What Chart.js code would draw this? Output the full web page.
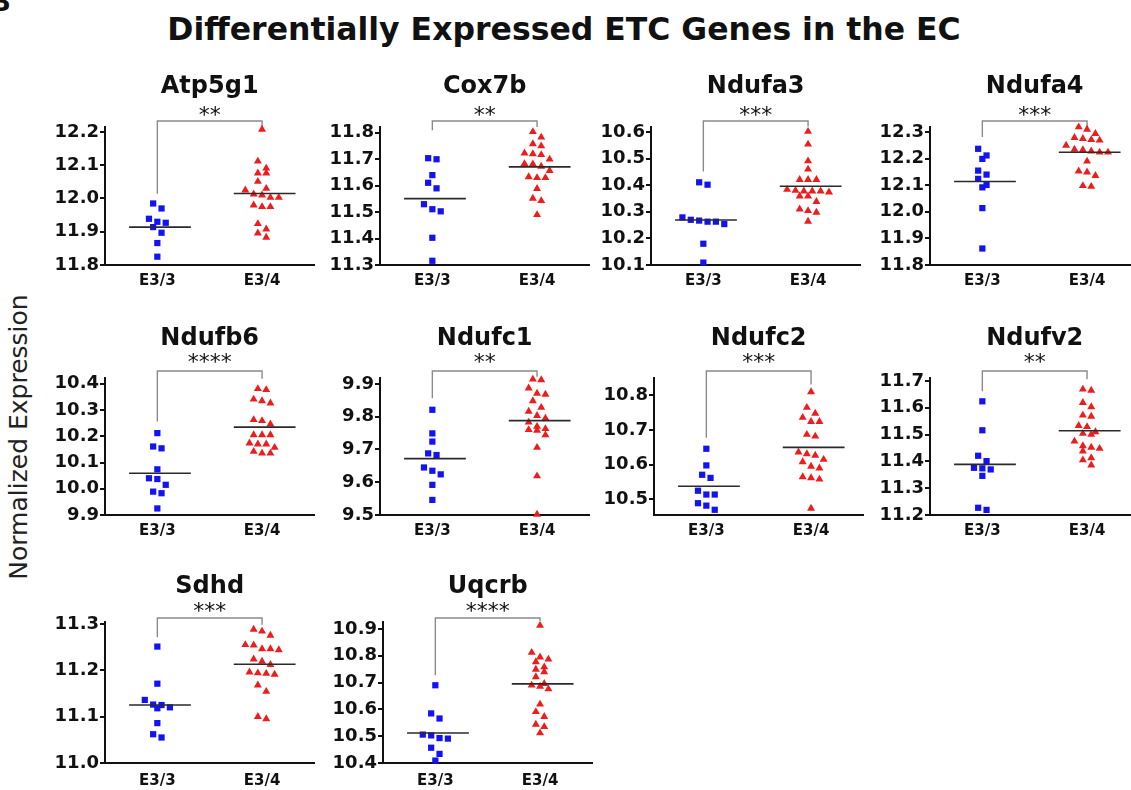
<!DOCTYPE html>
<html><head><meta charset="utf-8">
<script src="https://cdn.jsdelivr.net/npm/chart.js@4.4.1/dist/chart.umd.min.js"></script>
<style>
html,body{margin:0;padding:0;background:#fff;width:1131px;height:790px;overflow:hidden;position:relative;}
canvas{position:absolute;}
#mainTitle{position:absolute;left:0;width:1128px;top:14px;text-align:center;font:bold 31.5px "DejaVu Sans";line-height:30px;color:#111;white-space:nowrap;}
#panelLetter{position:absolute;left:-9px;top:-13px;font:bold 26px "DejaVu Sans";line-height:30px;color:#111;}
#yTitle{position:absolute;left:18px;top:437px;transform:translate(-50%,-50%) rotate(-90deg);font:25px "DejaVu Sans";color:#222;white-space:nowrap;}
</style></head>
<body>
<div id="panelLetter">B</div>
<div id="mainTitle">Differentially Expressed ETC Genes in the EC</div>
<div id="yTitle">Normalized Expression</div>
<script>
// ---------------- data ----------------
const genes = ['Atp5g1','Cox7b','Ndufa3','Ndufa4','Ndufb6','Ndufc1','Ndufc2','Ndufv2','Sdhd','Uqcrb'];
const significance = ['**','**','***','***','****','**','***','**','***','****'];
const groups = ['E3/3','E3/4'];

const e33 = [
  [11.985, 11.970, 11.930, 11.939, 11.914, 11.927, 11.897, 11.866, 11.825],
  [11.704, 11.700, 11.640, 11.611, 11.590, 11.530, 11.503, 11.511, 11.403, 11.316],
  [10.411, 10.402, 10.270, 10.263, 10.254, 10.263, 10.267, 10.279, 10.180, 10.109],
  [12.237, 12.212, 12.199, 12.155, 12.140, 12.124, 12.092, 12.101, 12.014, 11.862],
  [10.212, 10.154, 10.161, 10.074, 10.037, 10.040, 10.015, 9.989, 9.983, 9.925],
  [9.821, 9.749, 9.724, 9.688, 9.683, 9.645, 9.635, 9.624, 9.592, 9.546],
  [10.646, 10.598, 10.562, 10.571, 10.525, 10.514, 10.514, 10.489, 10.482, 10.470],
  [11.624, 11.516, 11.421, 11.401, 11.376, 11.370, 11.374, 11.346, 11.219, 11.227],
  [11.251, 11.171, 11.136, 11.125, 11.118, 11.120, 11.126, 11.086, 11.055, 11.062],
  [10.690, 10.585, 10.566, 10.506, 10.503, 10.491, 10.493, 10.457, 10.434, 10.409]
];
const e34 = [
  [12.208, 12.112, 12.076, 12.076, 12.091, 12.051, 12.030, 12.013, 12.025, 12.003, 12.003, 12.010, 11.980, 11.975, 11.975, 11.924, 11.908, 11.896, 11.883],
  [11.804, 11.783, 11.750, 11.758, 11.720, 11.717, 11.723, 11.700, 11.683, 11.673, 11.682, 11.657, 11.630, 11.630, 11.633, 11.589, 11.552, 11.543, 11.490],
  [10.602, 10.554, 10.491, 10.460, 10.421, 10.421, 10.421, 10.380, 10.374, 10.378, 10.378, 10.378, 10.384, 10.338, 10.359, 10.359, 10.304, 10.298, 10.310, 10.264],
  [12.319, 12.310, 12.294, 12.279, 12.269, 12.271, 12.275, 12.250, 12.233, 12.224, 12.224, 12.228, 12.235, 12.190, 12.149, 12.136, 12.153, 12.095, 12.098],
  [10.381, 10.377, 10.341, 10.326, 10.335, 10.259, 10.263, 10.246, 10.205, 10.205, 10.205, 10.170, 10.170, 10.157, 10.174, 10.142, 10.135, 10.135],
  [9.912, 9.914, 9.887, 9.871, 9.868, 9.848, 9.828, 9.816, 9.803, 9.795, 9.783, 9.763, 9.758, 9.760, 9.770, 9.744, 9.706, 9.619, 9.502],
  [10.810, 10.765, 10.748, 10.736, 10.724, 10.724, 10.682, 10.687, 10.636, 10.627, 10.631, 10.615, 10.608, 10.590, 10.595, 10.562, 10.558, 10.565, 10.474],
  [11.665, 11.669, 11.619, 11.603, 11.568, 11.572, 11.533, 11.529, 11.510, 11.500, 11.504, 11.475, 11.458, 11.448, 11.452, 11.438, 11.413, 11.405, 11.386],
  [11.284, 11.275, 11.288, 11.255, 11.246, 11.244, 11.246, 11.254, 11.219, 11.212, 11.224, 11.194, 11.193, 11.191, 11.196, 11.168, 11.154, 11.095, 11.100],
  [10.913, 10.812, 10.795, 10.777, 10.787, 10.749, 10.758, 10.740, 10.721, 10.696, 10.686, 10.676, 10.690, 10.619, 10.591, 10.573, 10.535, 10.544, 10.512]
];
const meanE33 = [11.914, 11.551, 10.269, 12.114, 10.059, 9.672, 10.538, 11.389, 11.125, 10.512];
const meanE34 = [12.015, 11.671, 10.396, 12.224, 10.235, 9.788, 10.650, 11.514, 11.213, 10.695];
const bracketLeft  = [12.014, 11.810, 10.452, 12.281, 10.256, 9.856, 10.678, 11.662, 11.271, 10.727];
const bracketRight = [12.205, 11.822, 10.621, 12.319, 10.419, 9.922, 10.831, 11.706, 11.298, 10.930];
const yMin = [11.8, 11.3, 10.1, 11.8, 9.9, 9.5, 10.455, 11.2, 11.0, 10.4];
const yMax = [12.215, 11.822, 10.619, 12.319, 10.422, 9.918, 10.85, 11.711, 11.304, 10.926];
const yTicks = [
  [11.8, 11.9, 12.0, 12.1, 12.2],
  [11.3, 11.4, 11.5, 11.6, 11.7, 11.8],
  [10.1, 10.2, 10.3, 10.4, 10.5, 10.6],
  [11.8, 11.9, 12.0, 12.1, 12.2, 12.3],
  [9.9, 10.0, 10.1, 10.2, 10.3, 10.4],
  [9.5, 9.6, 9.7, 9.8, 9.9],
  [10.5, 10.6, 10.7, 10.8],
  [11.2, 11.3, 11.4, 11.5, 11.6, 11.7],
  [11.0, 11.1, 11.2, 11.3],
  [10.4, 10.5, 10.6, 10.7, 10.8, 10.9]
];

// ---------------- layout / style ----------------
const axisX = [105, 380, 651, 930, 105, 380, 654, 930, 105, 383];
const rowOf = [0,0,0,0,1,1,1,1,2,2];
const rowTop = [127, 378, 622], rowBottom = [265, 515, 763];
const titleBase = [34, 33, 29], starCenter = [16.5, 19.7, 15.3], bracketGap = [6, 7, 4];
const xLabelPad = [7, 7, 9];
const PAD_TOP = 62, YW = 75, PLOT_W = 210, PAD_R = 4, XH = 30;
const X_MIN = 0.5, X_MAX = 2.5;
const BLUE = '#1212f2', RED = '#ee1c1c', INK = '#111';

// beeswarm-style horizontal spreading of points that share a value band
function swarm(vals, ppu, binPx, step, maxRow) {
  const idx = vals.map((v, i) => i).sort((a, b) => vals[b] - vals[a]);
  const off = new Array(vals.length).fill(0);
  let g = [];
  const flush = () => { g.forEach((k, j) => { off[k] = (j - (g.length - 1) / 2) * step; }); g = []; };
  idx.forEach(k => {
    if (g.length && ((vals[g[0]] - vals[k]) * ppu > binPx || g.length >= maxRow)) flush();
    g.push(k);
  });
  flush();
  return off;
}

genes.forEach((gene, i) => {
  const r = rowOf[i];
  const plotH = rowBottom[r] - rowTop[r];
  const W = YW + PLOT_W + PAD_R, H = PAD_TOP + plotH + XH;
  const cv = document.createElement('canvas');
  cv.width = W; cv.height = H;
  cv.style.left = (axisX[i] - YW) + 'px'; cv.style.top = (rowTop[r] - PAD_TOP) + 'px';
  cv.style.width = W + 'px'; cv.style.height = H + 'px';
  document.body.appendChild(cv);
  const ppu = plotH / (yMax[i] - yMin[i]);
  const step = 8.4 / (PLOT_W / (X_MAX - X_MIN));
  const o3 = swarm(e33[i], ppu, 7.5, step, 6), o4 = swarm(e34[i], ppu, 7.5, step, 6);
  const bTop = yMax[i] + bracketGap[r] / ppu;
  const meanLine = (c, m) => ({data: [{x: c - 0.27, y: m}, {x: c + 0.32, y: m}], showLine: true,
    borderColor: '#2a2a2a', borderWidth: 1.6, pointRadius: 0, clip: false});
  new Chart(cv, {
    type: 'scatter',
    data: {datasets: [
      meanLine(1, meanE33[i]),
      meanLine(2, meanE34[i]),
      {data: e33[i].map((v, k) => ({x: 1 + o3[k], y: v})), pointStyle: 'rect', pointRadius: 4.4,
       pointBackgroundColor: BLUE, pointBorderColor: BLUE, pointBorderWidth: 0, clip: false},
      {data: e34[i].map((v, k) => ({x: 2 + o4[k], y: v})), pointStyle: 'triangle', pointRadius: 4.6,
       pointBackgroundColor: RED, pointBorderColor: RED, pointBorderWidth: 0, clip: false},
      {data: [{x: 1, y: bracketLeft[i]}, {x: 1, y: bTop}, {x: 2, y: bTop}, {x: 2, y: bracketRight[i]}],
       showLine: true, borderColor: '#8a8a8a', borderWidth: 1.4, pointRadius: 0, clip: false, tension: 0}
    ]},
    options: {
      responsive: false, animation: false, events: [], devicePixelRatio: 1,
      layout: {padding: {top: PAD_TOP, right: PAD_R, left: 0, bottom: 0}},
      plugins: {legend: {display: false}, tooltip: {enabled: false}},
      scales: {
        x: {type: 'linear', min: X_MIN, max: X_MAX,
            afterFit: s => { s.height = XH; },
            afterBuildTicks: s => { s.ticks = [{value: 1}, {value: 2}]; },
            ticks: {callback: v => groups[Math.round(v) - 1], font: {family: 'DejaVu Sans', weight: 'bold', size: 15},
                    color: INK, padding: xLabelPad[r], maxRotation: 0, autoSkip: false},
            grid: {display: false, drawTicks: false},
            border: {display: true, color: INK, width: 2}},
        y: {type: 'linear', min: yMin[i], max: yMax[i],
            afterFit: s => { s.width = YW; },
            afterBuildTicks: s => { s.ticks = yTicks[i].map(v => ({value: v})); },
            ticks: {callback: v => Number(v).toFixed(1), font: {family: 'DejaVu Sans', weight: 'bold', size: 18},
                    color: INK, padding: 1, autoSkip: false},
            grid: {drawOnChartArea: false, drawTicks: true, tickLength: 5, color: INK, lineWidth: 2},
            border: {display: true, color: INK, width: 2}}
      }
    },
    plugins: [{
      id: 'panelText',
      afterDraw(chart) {
        const {ctx, chartArea, scales} = chart;
        const cx = (scales.x.getPixelForValue(1) + scales.x.getPixelForValue(2)) / 2;
        ctx.save();
        ctx.fillStyle = INK; ctx.textAlign = 'center'; ctx.textBaseline = 'alphabetic';
        ctx.font = 'bold 24px "DejaVu Sans"';
        ctx.fillText(gene, cx, chartArea.top - titleBase[r]);
        ctx.font = '22px "DejaVu Sans"';
        const m = ctx.measureText(significance[i]);
        const yc = chartArea.top - starCenter[r];
        ctx.fillText(significance[i], cx, yc + (m.actualBoundingBoxAscent - m.actualBoundingBoxDescent) / 2);
        ctx.restore();
      }
    }]
  });
});
</script>
</body></html>
